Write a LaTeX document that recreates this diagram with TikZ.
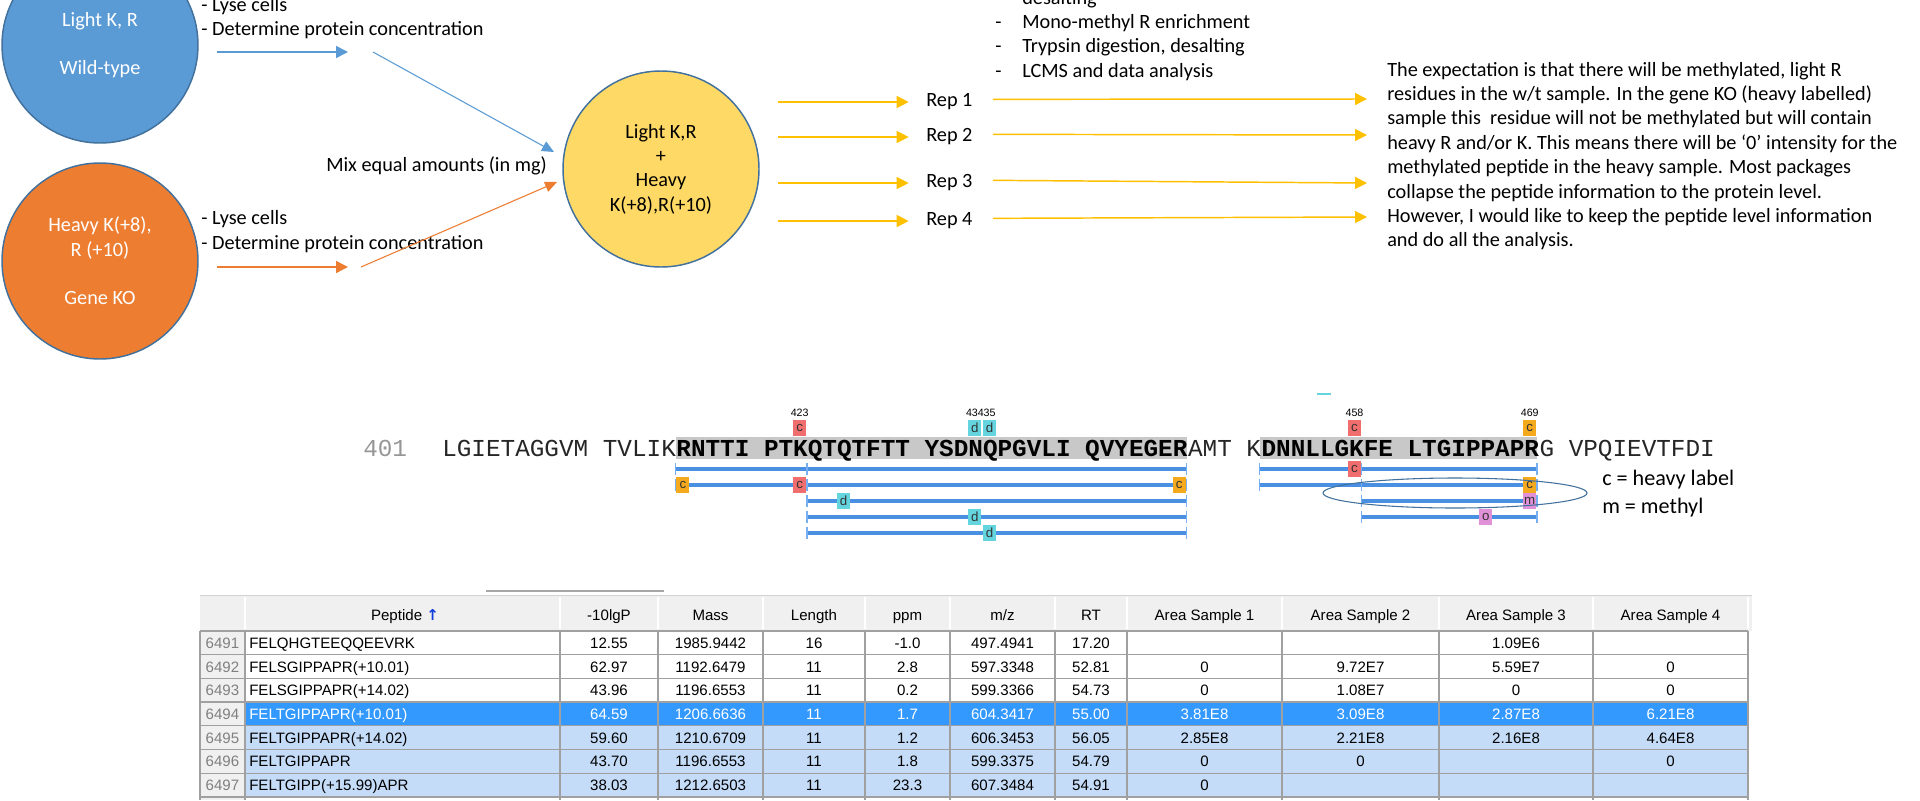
\documentclass[tikz,border=0pt]{standalone}
\usepackage{fontspec}
\setmainfont{Carlito}
\newfontfamily\seqfont{Liberation Mono}
\newfontfamily\tblfont{Liberation Sans}
\newfontfamily\symfont{DejaVu Sans}
\usetikzlibrary{arrows.meta, positioning}

\definecolor{wtblue}{HTML}{5B9BD5}
\definecolor{koorange}{HTML}{ED7D31}
\definecolor{mixyellow}{HTML}{FFD966}
\definecolor{repyellow}{HTML}{FFC000}
\definecolor{rimblue}{HTML}{41719C}
\definecolor{barblue}{RGB}{74,144,226}
\definecolor{tickblue}{RGB}{120,175,240}
\definecolor{hlgray}{RGB}{200,200,200}
\definecolor{seqgray}{RGB}{150,150,150}
\definecolor{modred}{RGB}{240,110,110}
\definecolor{modorange}{RGB}{245,170,30}
\definecolor{modcyan}{RGB}{100,212,222}
\definecolor{modpink}{RGB}{225,145,215}
\definecolor{selblue}{RGB}{51,153,255}
\definecolor{rowblue}{RGB}{196,220,248}
\definecolor{gridgray}{RGB}{160,160,160}
\definecolor{headgray}{RGB}{240,240,240}
\definecolor{numgray}{RGB}{128,128,128}
\definecolor{arrowblue}{RGB}{20,60,220}

\newcommand\bodysize{\fontsize{15.2}{18.3}\selectfont}
\newcommand\legendsize{\fontsize{16.6}{20}\selectfont}
\newcommand\seqsize{\fontsize{18.25}{20}\selectfont}
\newcommand\tblsize{\fontsize{11.3}{13}\selectfont}
\newcommand\seqx[1]{442+#1*14.6}

\begin{document}
\begin{tikzpicture}[x=0.75pt, y=-0.75pt,
    txt/.style={font=\bodysize, inner sep=0pt, anchor=base west},
    cell/.style={circle, draw=rimblue, line width=1.1pt, minimum size=147pt,
        inner sep=0pt, align=center, font=\bodysize},
    thinarrow/.style={line width=0.8pt, -{Triangle[length=9pt, width=8pt]}},
    flowarrow/.style={line width=1.1pt, -{Triangle[length=9pt, width=9pt]}},
    seqtxt/.style={font=\seqfont\seqsize, inner sep=0pt, anchor=base west},
    pepline/.style={barblue, line width=3pt},
    peptick/.style={tickblue, line width=0.8pt},
    modtag/.style={minimum width=9.75pt, minimum height=12pt, inner sep=0pt,
        font=\tblfont\fontsize{10}{10}\selectfont, text=black!80},
    posnum/.style={font=\tblfont\fontsize{8}{8}\selectfont, inner sep=0pt},
    tbltxt/.style={font=\tblfont\tblsize, inner sep=0pt, anchor=base},
    gridline/.style={gridgray, line width=1pt},
    rowplain/.style={fill=white},
    rowsel/.style={fill=selblue},
    rowhl/.style={fill=rowblue}]
    \useasboundingbox (0,0) rectangle (1920,800);
    \fill[white] (0,0) rectangle (1920,800);

    \node[cell, fill=wtblue, text=white] (wt) at (100,45) {Light K, R\\[18.3pt]Wild-type};
    \node[cell, fill=koorange, text=white] (ko) at (100,261) {Heavy K(+8),\\R (+10)\\[18.3pt]Gene KO};
    \node[cell, fill=mixyellow] (mix) at (661,169) {Light K,R\\+\\Heavy\\K(+8),R(+10)};

    \node[txt] (lyse1) at (201,11) {- Lyse cells};
    \node[txt] (conc1) at (201,35) {- Determine protein concentration};
    \node[txt] (lyse2) at (201,224) {- Lyse cells};
    \node[txt] (conc2) at (201,249) {- Determine protein concentration};
    \node[txt] (mixlabel) at (326,171) {Mix equal amounts (in mg)};

    \coordinate (wtA) at (217,52);
    \coordinate (wtB) at (348,52);
    \coordinate (wtC) at (373,52);
    \coordinate (wtD) at (554,152);
    \coordinate (koA) at (217,267);
    \coordinate (koB) at (348,267);
    \coordinate (koC) at (361,267);
    \coordinate (koD) at (557,182);
    \draw[flowarrow, wtblue] (wtA) -- (wtB);
    \draw[thinarrow, wtblue] (wtC) -- (wtD);
    \draw[flowarrow, koorange] (koA) -- (koB);
    \draw[thinarrow, koorange] (koC) -- (koD);

    \foreach \n/\y/\ty in {1/102/99, 2/137/135, 3/183/183, 4/221/217} {
        \node[txt, anchor=west] (rep\n) at (926,\y) {Rep \n};
        \coordinate (in\n) at (778,\y);
        \coordinate (out\n) at (1367,\ty);
        \draw[flowarrow, repyellow] (in\n) -- ([xshift=-13pt]rep\n.west);
        \draw[flowarrow, repyellow] ([xshift=15pt, yshift=2pt]rep\n.east) -- (out\n);
    }

    \node[txt] (step0) at (1022,4) {desalting};
    \foreach \ptext [count=\i] in {Mono-methyl R enrichment, {Trypsin digestion, desalting}, LCMS and data analysis} {
        \node[txt] (dash\i) at (995,{4+24.4*\i}) {-};
        \node[txt] (step\i) at (1022,{4+24.4*\i}) {\ptext};
    }

    \foreach \ptext [count=\i] in {{The expectation is that there will be methylated, light R},
        {residues in the w/t sample.  In the gene KO (heavy labelled)},
        {sample this~ residue will not be methylated but will contain},
        {heavy R and/or K. This means there will be ‘0’ intensity for the},
        {methylated peptide in the heavy sample. Most packages},
        {collapse the peptide information to the protein level.},
        {However, I would like to keep the peptide level information},
        {and do all the analysis.}} {
        \node[txt] (note\i) at (1387,{76+24.4*(\i-1)}) {\ptext};
    }

    \fill[hlgray] ({\seqx{16}},437) rectangle ({\seqx{51}},459);
    \fill[hlgray] ({\seqx{56}},437) rectangle ({\seqx{75}},459);
    \draw[modcyan, line width=1.5pt] (1317,394) -- (1331,394);
    \node[seqtxt, text=seqgray] (start) at (363,456) {401};
    \node[seqtxt, text=black!85] (seqa) at ({\seqx{0}},456) {LGIETAGGVM TVLIK};
    \node[seqtxt, font=\seqfont\seqsize\bfseries] (seqb) at (seqa.base east) {RNTTI PTKQTQTFTT YSDNQPGVLI QVYEGER};
    \node[seqtxt, text=black!85] (seqc) at (seqb.base east) {AMT K};
    \node[seqtxt, font=\seqfont\seqsize\bfseries] (seqd) at (seqc.base east) {DNNLLGKFE LTGIPPAPR};
    \node[seqtxt, text=black!85] (seqe) at (seqd.base east) {G VPQIEVTFDI};

    \foreach \y/\a/\b in {469/16/25, 469/25/51, 485/16/25, 485/25/51, 501/25/51, 517/25/51, 533/25/51,
        469/56/63, 469/63/75, 485/56/63, 485/63/75, 501/63/75, 517/63/75} {
        \draw[pepline] ({\seqx{\a}},\y) -- ({\seqx{\b}},\y);
        \draw[peptick] ({\seqx{\a}},{\y-6}) -- ({\seqx{\a}},{\y+6})
            ({\seqx{\b}},{\y-6}) -- ({\seqx{\b}},{\y+6});
    }
    \foreach \k/\lab in {24/423, 36/434, 37/35, 62/458, 74/469}
        \node[posnum] (pos\lab) at ({\seqx{\k}+7.3},413) {\lab};
    \foreach \y/\k/\col/\lab in {428/24/modred/c, 428/36/modcyan/d, 428/37/modcyan/d, 428/62/modred/c,
        428/74/modorange/c, 485/16/modorange/c, 485/24/modred/c, 485/50/modorange/c, 469/62/modred/c,
        485/74/modorange/c, 501/27/modcyan/d, 501/74/modpink/m, 517/36/modcyan/d, 517/71/modpink/o,
        533/37/modcyan/d}
        \node[modtag, fill=\col] (mod\y-\k) at ({\seqx{\k}+7.3},\y) {\lab};
    \draw[rimblue, line width=0.8pt] (1455,493) ellipse [x radius=132, y radius=15];
    \node[txt, font=\legendsize] (legc) at (1602,485) {c = heavy label};
    \node[txt, font=\legendsize] (legm) at (1602,513) {m = methyl};

    \draw[gray!70, line width=1.5pt] (486,591) -- (664,591);
    \fill[headgray] (200,595) rectangle (1752,631);
    \fill[headgray] (200,631) rectangle (245,800);
    \foreach \st/\tc/\num/\pep/\lgp/\mass/\len/\ppm/\mz/\rt/\areaA/\areaB/\areaC/\areaD [count=\r] in {
        rowplain/black/6491/FELQHGTEEQQEEVRK/12.55/1985.9442/16/-1.0/497.4941/17.20/{}/{}/1.09E6/{},
        rowplain/black/6492/FELSGIPPAPR(+10.01)/62.97/1192.6479/11/2.8/597.3348/52.81/0/9.72E7/5.59E7/0,
        rowplain/black/6493/FELSGIPPAPR(+14.02)/43.96/1196.6553/11/0.2/599.3366/54.73/0/1.08E7/0/0,
        rowsel/white/6494/FELTGIPPAPR(+10.01)/64.59/1206.6636/11/1.7/604.3417/55.00/3.81E8/3.09E8/2.87E8/6.21E8,
        rowhl/black/6495/FELTGIPPAPR(+14.02)/59.60/1210.6709/11/1.2/606.3453/56.05/2.85E8/2.21E8/2.16E8/4.64E8,
        rowhl/black/6496/FELTGIPPAPR/43.70/1196.6553/11/1.8/599.3375/54.79/0/0/{}/0,
        rowhl/black/6497/FELTGIPP(+15.99)APR/38.03/1212.6503/11/23.3/607.3484/54.91/0/{}/{}/{}} {
        \pgfmathsetmacro\ytop{631+23.7*(\r-1)}
        \fill[\st] (245,\ytop) rectangle (1748,{\ytop+23.7});
        \node[tbltxt, text=numgray] (n\num) at (222.5,{\ytop+17.3}) {\num};
        \node[tbltxt, anchor=base west, text=\tc] (p\num) at (249,{\ytop+17.3}) {\pep};
        \foreach \v/\cx [count=\c] in {\lgp/609, \mass/710.5, \len/814, \ppm/907.5, \mz/1002.5, \rt/1091,
            \areaA/1204.5, \areaB/1360.5, \areaC/1516, \areaD/1670.5}
            \node[tbltxt, text=\tc] (v\num-\c) at (\cx,{\ytop+17.3}) {\v};
    }
    \fill[white] (245,797) rectangle (1748,800);
    \foreach \h/\cx [count=\c] in {{Peptide \textcolor{arrowblue}{\symfont\bfseries ↑}}/405, -10lgP/609,
        Mass/710.5, Length/814, ppm/907.5, {m/z}/1002.5, RT/1091, Area Sample 1/1204.5,
        Area Sample 2/1360.5, Area Sample 3/1516, Area Sample 4/1670.5}
        \node[tbltxt] (head\c) at (\cx,620) {\h};
    \draw[gray!35] (200,595) -- (1752,595);
    \foreach \cx in {245,560,658,763,865,950,1055,1127,1282,1439,1593,1748}
        \draw[white, line width=1.2pt] (\cx,597) -- (\cx,629);
    \foreach \cx in {200,245,560,658,763,865,950,1055,1127,1282,1439,1593,1748}
        \draw[gridline] (\cx,631) -- (\cx,800);
    \foreach \r in {0,...,7}
        \draw[gridline] (200,{631+23.7*\r}) -- (1748,{631+23.7*\r});
  \end{tikzpicture}
\end{document}
